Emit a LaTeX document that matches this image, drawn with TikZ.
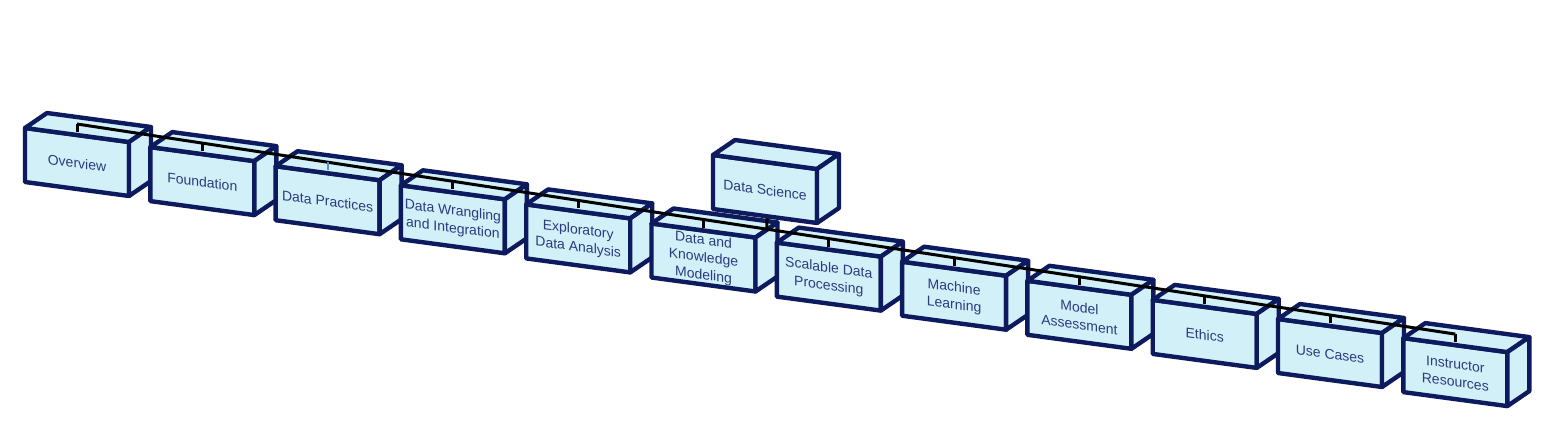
\documentclass[tikz,border=0pt]{standalone}
\usepackage{fontspec}
\setmainfont{Liberation Sans}
\usetikzlibrary{calc}
\definecolor{navy}{HTML}{0D1B5E}
\definecolor{cubefill}{HTML}{D2F0F8}
\definecolor{txtblue}{HTML}{2A3B80}
\definecolor{stubblue}{HTML}{5A8FD0}
\tikzset{
  facestyle/.style={draw=navy, fill=cubefill, line width=4.4pt, line join=round},
  labelstyle/.style={text=txtblue, align=center, inner sep=0pt, yslant=-0.135,
    font=\fontsize{14}{17.5}\selectfont},
  busline/.style={draw=black, line width=3pt, line cap=butt},
}
\newcommand\cubebox[4]{%
  \filldraw[facestyle] (#2,#3) -- ++(104,14) -- ++(0,54) -- ++(-104,-14) -- cycle;
  \filldraw[facestyle] (#2,#3) -- ++(22,-15) -- ++(104,14) -- ++(-22,15) -- cycle;
  \filldraw[facestyle] (#2+104,#3+14) -- ++(22,-15) -- ++(0,54) -- ++(-22,15) -- cycle;
  \node[labelstyle] (#1) at (#2+52,#3+35) {#4};
  \coordinate (#1s) at (#2+52,#3+4);
  \coordinate (#1t) at (#2+52,#3-4);
}
\begin{document}
\begin{tikzpicture}[x=1pt,y=-1pt]
\useasboundingbox (0,0) rectangle (1553,434);
\cubebox{b1}{25}{128}{Overview}
\cubebox{b2}{150.3}{147.1}{Foundation}
\cubebox{b3}{275.6}{166.2}{Data Practices}
\cubebox{b4}{400.9}{185.3}{Data Wrangling\\and Integration}
\cubebox{b5}{526.2}{204.4}{Exploratory\\Data Analysis}
\cubebox{b6}{651.5}{223.5}{Data and\\Knowledge\\Modeling}
\cubebox{ds}{713}{155}{Data Science}
\cubebox{b7}{776.8}{242.6}{Scalable Data\\Processing}
\cubebox{b8}{902.1}{261.7}{Machine\\Learning}
\cubebox{b9}{1027.4}{280.8}{Model\\Assessment}
\cubebox{b10}{1152.7}{299.9}{Ethics}
\cubebox{b11}{1278}{319}{Use Cases}
\cubebox{b12}{1403.3}{338.1}{Instructor\\Resources}
% bus
\draw[busline] (b1t) -- (b12t);
\foreach \n in {b1,b2,b4,b5,b6,b7,b8,b9,b10,b11,b12}{
  \draw[busline] (\n t) -- (\n s);
}
\draw[draw=stubblue, line width=2pt] (b3t) -- (b3s);
\coordinate (dsb) at (767,218);
\draw[busline] (dsb) -- ($(b1t)!0.5006!(b12t)$);
\end{tikzpicture}
\end{document}
